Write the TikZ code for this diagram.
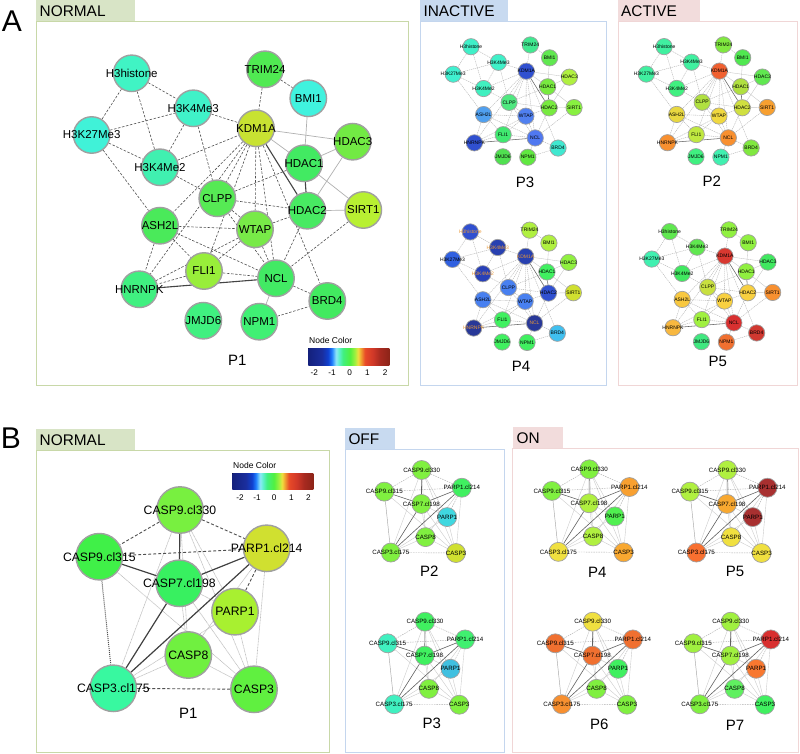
\documentclass[tikz,border=0pt]{standalone}
\usepackage{fontspec}
\setmainfont{Liberation Sans}
\pgfdeclarelayer{bg}
\pgfsetlayers{bg,main}

\definecolor{tabG}{HTML}{D8E4C6}
\definecolor{frmG}{HTML}{C8D8A8}
\definecolor{tabB}{HTML}{C8DAF0}
\definecolor{frmB}{HTML}{C4D6EE}
\definecolor{tabR}{HTML}{F2DCDC}
\definecolor{frmR}{HTML}{F0D6D6}
\definecolor{nbord}{HTML}{A0A0A0}
\definecolor{edark}{HTML}{505050}
\definecolor{elight}{HTML}{B0B0B0}
\definecolor{txk}{HTML}{000000}
\definecolor{txo}{HTML}{E89838}

\definecolor{cb1}{HTML}{14207C}
\definecolor{cb2}{HTML}{1A2E9E}
\definecolor{cb3}{HTML}{1040D0}
\definecolor{cb4}{HTML}{2080FF}
\definecolor{cb5}{HTML}{90E8F8}
\definecolor{cb6}{HTML}{60F0D0}
\definecolor{cb7}{HTML}{40F080}
\definecolor{cb8}{HTML}{50F040}
\definecolor{cb9}{HTML}{A0F040}
\definecolor{cb10}{HTML}{F0E040}
\definecolor{cb11}{HTML}{F0A030}
\definecolor{cb12}{HTML}{E84A28}
\definecolor{cb13}{HTML}{D03828}
\definecolor{cb14}{HTML}{A82A20}
\definecolor{cb15}{HTML}{8C2418}
\pgfdeclarehorizontalshading{ncbar}{100bp}{color(0bp)=(cb1); color(25bp)=(cb1); color(33.5bp)=(cb2); color(37.2bp)=(cb3); color(39.6bp)=(cb4); color(42.1bp)=(cb5); color(43.9bp)=(cb6); color(46.4bp)=(cb7); color(50.7bp)=(cb8); color(53.8bp)=(cb9); color(55.7bp)=(cb10); color(57.5bp)=(cb11); color(60bp)=(cb12); color(64.9bp)=(cb13); color(69.2bp)=(cb14); color(75bp)=(cb15); color(100bp)=(cb15)}

\newcommand\setposA[4]{\expandafter\def\csname Ax#1\endcsname{#2}\expandafter\def\csname Ay#1\endcsname{#3}\expandafter\def\csname Al#1\endcsname{#4}}
\newcommand\setposB[4]{\expandafter\def\csname Bx#1\endcsname{#2}\expandafter\def\csname By#1\endcsname{#3}\expandafter\def\csname Bl#1\endcsname{#4}}

\setposA{H3h}{131.7}{73.3}{H3histone}
\setposA{TRI}{265}{69.3}{TRIM24}
\setposA{BMI}{308.3}{98.3}{BMI1}
\setposA{K43}{193.3}{108.3}{H3K4Me3}
\setposA{KDM}{256}{128.3}{KDM1A}
\setposA{K27}{91.7}{135}{H3K27Me3}
\setposA{HD3}{352.7}{141.7}{HDAC3}
\setposA{HD1}{304}{163.3}{HDAC1}
\setposA{K42}{160}{167.3}{H3K4Me2}
\setposA{CLP}{217.3}{198.3}{CLPP}
\setposA{HD2}{307.3}{210.7}{HDAC2}
\setposA{SIR}{363.3}{210}{SIRT1}
\setposA{ASH}{160}{225.7}{ASH2L}
\setposA{WTA}{255}{229.3}{WTAP}
\setposA{FLI}{204}{271}{FLI1}
\setposA{NCL}{276}{278.3}{NCL}
\setposA{HNR}{139.3}{289.3}{HNRNPK}
\setposA{BRD}{327.3}{301}{BRD4}
\setposA{JMJ}{203.3}{320.7}{JMJD6}
\setposA{NPM}{259.3}{321.7}{NPM1}

\setposB{c330}{0}{0}{CASP9.cl330}
\setposB{p214}{86.7}{38.3}{PARP1.cl214}
\setposB{c315}{-80.7}{46.7}{CASP9.cl315}
\setposB{c198}{-0.7}{73.3}{CASP7.cl198}
\setposB{prp}{55}{101.7}{PARP1}
\setposB{cs8}{8.3}{145}{CASP8}
\setposB{c175}{-66.7}{178.3}{CASP3.cl175}
\setposB{cs3}{74}{179.3}{CASP3}

\def\EAdash{H3h/K27,H3h/K43,H3h/K42,K27/K43,K27/K42,K27/ASH,K43/K42,K43/KDM,K43/CLP,K42/KDM,K42/CLP,TRI/BMI,TRI/KDM,KDM/CLP,KDM/ASH,KDM/WTA,KDM/FLI,KDM/NCL,KDM/HNR,KDM/BRD,CLP/HD1,CLP/HD2,CLP/WTA,CLP/NCL,ASH/WTA,ASH/NCL,ASH/HNR,ASH/FLI,WTA/HD2,WTA/FLI,WTA/HNR,WTA/NCL,HD2/NCL,SIR/NCL,NCL/BRD,NPM/BRD,FLI/NCL,FLI/HNR}
\def\EAdark{KDM/HD2,HD1/HD2,HNR/NCL}
\def\EAlight{KDM/HD1,KDM/HD3,HD1/HD3,HD1/SIR,HD2/SIR,HD2/HD3,BMI/HD1,NCL/NPM}

\def\EBdash{c330/c315,c330/p214,c315/p214,p214/prp,c175/cs3}
\def\EBdark{c330/c198,c315/c198,p214/c198,p214/c175,c198/c175}
\def\EBdot{c315/c175}
\def\EBlight{c330/c175,c330/cs8,c330/cs3,c330/prp,c315/cs3,p214/cs3,p214/cs8,c198/cs8,c198/cs3,c198/prp,prp/c175,prp/cs3,cs8/c175,cs8/cs3}

\newcommand\netA[6]{%
  \foreach \nid/\hx/\tcol in {#6}{%
    \definecolor{tmpc}{HTML}{\hx}%
    \node[#5, fill=tmpc, text=\tcol] (#1\nid) at ({#2+\csname Ax\nid\endcsname*#4},{#3+\csname Ay\nid\endcsname*#4}) {\makebox[0pt]{\csname Al\nid\endcsname}};
  }}
\newcommand\edgesA[4]{%
  \begin{pgfonlayer}{bg}
  \foreach \ea/\eb in \EAdash {\draw[#2] (#1\ea) -- (#1\eb);}
  \foreach \ea/\eb in \EAdark {\draw[#3] (#1\ea) -- (#1\eb);}
  \foreach \ea/\eb in \EAlight {\draw[#4] (#1\ea) -- (#1\eb);}
  \end{pgfonlayer}}
\newcommand\netB[6]{%
  \foreach \nid/\hx in {#6}{%
    \definecolor{tmpc}{HTML}{\hx}%
    \node[#5, fill=tmpc] (#1\nid) at ({#2+\csname Bx\nid\endcsname*#4},{#3+\csname By\nid\endcsname*#4}) {\makebox[0pt]{\csname Bl\nid\endcsname}};
  }}
\newcommand\edgesB[5]{%
  \begin{pgfonlayer}{bg}
  \foreach \ea/\eb in \EBlight {\draw[#5] (#1\ea) -- (#1\eb);}
  \foreach \ea/\eb in \EBdash {\draw[#2] (#1\ea) -- (#1\eb);}
  \foreach \ea/\eb in \EBdark {\draw[#3] (#1\ea) -- (#1\eb);}
  \foreach \ea/\eb in \EBdot {\draw[#4] (#1\ea) -- (#1\eb);}
  \end{pgfonlayer}}

\tikzset{
  bigA/.style={circle, draw=nbord, line width=1.4pt, minimum size=36.5pt, inner sep=0pt, font=\fontsize{11.5}{12}\selectfont},
  smallA/.style={circle, draw=nbord, line width=0.7pt, minimum size=16.3pt, inner sep=0pt, font=\fontsize{5}{6}\selectfont},
  bigB/.style={circle, draw=nbord, line width=1.4pt, minimum size=46.5pt, inner sep=0pt, font=\fontsize{12.2}{13}\selectfont},
  smallB/.style={circle, draw=nbord, line width=0.7pt, minimum size=19pt, inner sep=0pt, font=\fontsize{6.2}{7}\selectfont},
  eDashBig/.style={draw=edark, line width=0.6pt, dash pattern=on 2.5pt off 1.6pt},
  eDarkBig/.style={draw=edark!85!black, line width=1.1pt},
  eLightBig/.style={draw=elight, line width=0.7pt},
  eDashSm/.style={draw=gray!65, line width=0.35pt, dash pattern=on 1.2pt off 0.8pt},
  eDarkSm/.style={draw=gray!80!black, line width=0.55pt},
  eLightSm/.style={draw=gray!45, line width=0.35pt},
  bDash/.style={draw=edark, line width=0.9pt, dash pattern=on 3pt off 2pt},
  bDark/.style={draw=edark!80!black, line width=1.2pt},
  bDot/.style={draw=edark, line width=1pt, dash pattern=on 1pt off 1pt},
  bLight/.style={draw=gray!50, line width=0.6pt, dash pattern=on 1pt off 0.5pt},
  sDash/.style={draw=gray!65, line width=0.4pt, dash pattern=on 1.5pt off 1pt},
  sDark/.style={draw=gray!75!black, line width=0.6pt},
  sDot/.style={draw=gray!70, line width=0.45pt},
  sLight/.style={draw=gray!40, line width=0.4pt},
  ttl/.style={font=\fontsize{15.4}{16}\selectfont, anchor=west, inner sep=0pt},
  plab/.style={font=\fontsize{15}{16}\selectfont, inner sep=0pt},
  bigletter/.style={font=\fontsize{30}{32}\selectfont, inner sep=0pt},
  cbtxt/.style={font=\fontsize{8.5}{9}\selectfont, inner sep=0pt},
  cbtick/.style={font=\fontsize{8.2}{9}\selectfont, inner sep=0pt, anchor=base},
}

\begin{document}
\begin{tikzpicture}[x=1pt,y=-1pt]
\useasboundingbox (0,0) rectangle (800,754);
\begin{pgfonlayer}{bg}
\fill[white] (0,0) rectangle (800,754);
% frames A
\fill[tabG] (36,0) rectangle (135,22);
\draw[frmG, line width=1pt] (36,22) rectangle (408,385);
\fill[tabB] (420,0) rectangle (508,22);
\draw[frmB, line width=1pt] (420,22) rectangle (606,385);
\fill[tabR] (618,0) rectangle (700,22);
\draw[frmR, line width=1pt] (618,22) rectangle (797,385);
% frames B
\fill[tabG] (36,429.3) rectangle (135,450.7);
\draw[frmG, line width=1pt] (36,450.7) rectangle (329.3,752.5);
\fill[tabB] (345,428.3) rectangle (395,449.3);
\draw[frmB, line width=1pt] (345,449.3) rectangle (504,752.5);
\fill[tabR] (512.7,426.7) rectangle (563.3,448.3);
\draw[frmR, line width=1pt] (512.7,448.3) rectangle (798,752.5);
\end{pgfonlayer}

\node[bigletter] (LA) at (12,21) {A};
\node[bigletter] (LB) at (11,438) {B};
\node[ttl] (tA1) at (39.5,11.3) {NORMAL};
\node[ttl] (tA2) at (423.3,11.3) {INACTIVE};
\node[ttl] (tA3) at (621,11.3) {ACTIVE};
\node[ttl] (tB1) at (39.5,440.3) {NORMAL};
\node[ttl] (tB2) at (348.3,438.8) {OFF};
\node[ttl] (tB3) at (516.5,437.8) {ON};

% ---------- A P1
\netA{a}{0}{0}{1}{bigA}{H3h/40F4C4/txk, TRI/50EA52/txk, BMI/40F2DE/txk, K43/40F2C8/txk, KDM/C8E232/txk, K27/40F2D8/txk, HD3/72EA44/txk, HD1/42EA62/txk, K42/40F0B0/txk, CLP/56EA54/txk, HD2/48EA62/txk, SIR/B8F032/txk, ASH/4AEA5A/txk, WTA/78EA48/txk, FLI/98EE3A/txk, NCL/42EA64/txk, HNR/40F080/txk, BRD/42EA60/txk, JMJ/40F080/txk, NPM/40F074/txk}
\edgesA{a}{eDashBig}{eDarkBig}{eLightBig}
\node[plab] (pA1) at (237.3,360) {P1};

% ---------- A P3 inactive
\netA{b}{412.4}{14.1}{0.445}{smallA}{H3h/40F0C8/txk, TRI/40E890/txk, BMI/60E850/txk, K43/40F0C8/txk, KDM/3050D0/txk, K27/40F0D0/txk, HD3/B0F040/txk, HD1/78EA40/txk, K42/40F0C0/txk, CLP/50E880/txk, HD2/78EA40/txk, SIR/88F040/txk, ASH/50A0F0/txk, WTA/5080F0/txk, FLI/40E870/txk, NCL/5078F0/txk, HNR/3050D0/txk, BRD/40E8D0/txk, JMJ/50E050/txk, NPM/60E840/txk}
\edgesA{b}{eDashSm}{eDarkSm}{eLightSm}
\node[plab] (pA3) at (525,182.7) {P3};

% ---------- A P4 inactive
\netA{c}{411.7}{199.3}{0.445}{smallA}{H3h/3050D0/txo, TRI/B0F040/txk, BMI/B0F040/txk, K43/2840B0/txo, KDM/2840B0/txo, K27/3060E0/txk, HD3/90F040/txk, HD1/40F060/txk, K42/2840B8/txo, CLP/4880F0/txk, HD2/3050D0/txk, SIR/D0E030/txk, ASH/4880F0/txk, WTA/4880F0/txk, FLI/40F060/txk, NCL/283898/txo, HNR/283898/txo, BRD/40C0F0/txk, JMJ/40F060/txk, NPM/40F060/txk}
\edgesA{c}{eDashSm}{eDarkSm}{eLightSm}
\node[plab] (pA4) at (521,366.7) {P4};

% ---------- A P2 active
\netA{d}{605.5}{14}{0.445}{smallA}{H3h/40F0A0/txk, TRI/80E840/txk, BMI/50E850/txk, K43/40F0A0/txk, KDM/F06030/txk, K27/40F0A0/txk, HD3/60E850/txk, HD1/B0E040/txk, K42/40F080/txk, CLP/B0E040/txk, HD2/D0E040/txk, SIR/F8A030/txk, ASH/E8D840/txk, WTA/F0D840/txk, FLI/C0E840/txk, NCL/F89030/txk, HNR/F89030/txk, BRD/80E840/txk, JMJ/40F080/txk, NPM/40F0B0/txk}
\edgesA{d}{eDashSm}{eDarkSm}{eLightSm}
\node[plab] (pA2) at (711.7,181.7) {P2};

% ---------- A P5 active
\netA{e}{611}{199}{0.445}{smallA}{H3h/60E850/txk, TRI/90F040/txk, BMI/90F040/txk, K43/60E850/txk, KDM/D83830/txk, K27/40F0B0/txk, HD3/40E860/txk, HD1/90F040/txk, K42/40E860/txk, CLP/C8E040/txk, HD2/F8D040/txk, SIR/F89030/txk, ASH/F8C840/txk, WTA/F8D040/txk, FLI/A0F040/txk, NCL/D83030/txk, HNR/F8B840/txk, BRD/D03830/txk, JMJ/40E880/txk, NPM/F07030/txk}
\edgesA{e}{eDashSm}{eDarkSm}{eLightSm}
\node[plab] (pA5) at (717.7,361.7) {P5};

% ---------- colour bar A
\fill[shading=ncbar] (308.3,348.3) rectangle (389.3,365);
\node[cbtxt, anchor=base west] (cbAl) at (309,343.5) {Node Color};
\foreach \v [count=\k] in {-2,-1,0,1,2}
  \node[cbtick] (cbA\k) at ({314.3+(\k-1)*17.7},375.5) {\v};

% ---------- B P1
\netB{f}{180}{510}{1}{bigB}{c330/78F040, p214/D0E030, c315/40F048, c198/38F060, prp/A8F030, cs8/70F040, c175/38F8A0, cs3/60F040}
\edgesB{f}{bDash}{bDark}{bDot}{bLight}
\node[plab] (pB1) at (188.3,713.3) {P1};

% ---------- colour bar B
\fill[shading=ncbar] (232.3,473.3) rectangle (313.3,489);
\node[cbtxt, anchor=base west] (cbBl) at (233,468) {Node Color};
\foreach \v [count=\k] in {-2,-1,0,1,2}
  \node[cbtick] (cbB\k) at ({240+(\k-1)*17.1},500.3) {\v};

% ---------- B small
\netB{g}{421.7}{470}{0.463}{smallB}{c330/80F040, p214/40F060, c315/80F040, c198/80F040, prp/40D8E0, cs8/80F040, c175/80F040, cs3/D0E030}
\edgesB{g}{sDash}{sDark}{sDot}{sLight}
\node[plab] (pB2) at (429.3,571.7) {P2};

\netB{h}{425}{621.7}{0.463}{smallB}{c330/40F060, p214/40F070, c315/40F0C0, c198/40F060, prp/40C0E0, cs8/80F040, c175/40F0C0, cs3/80F040}
\edgesB{h}{sDash}{sDark}{sDot}{sLight}
\node[plab] (pB3) at (431.7,723.3) {P3};

\netB{i}{589.3}{469.3}{0.463}{smallB}{c330/80F040, p214/F8A030, c315/80F040, c198/B0F040, prp/50F050, cs8/B0F040, c175/F0E040, cs3/F8A830}
\edgesB{i}{sDash}{sDark}{sDot}{sLight}
\node[plab] (pB4) at (597.3,572.7) {P4};

\netB{j}{727.3}{470}{0.463}{smallB}{c330/B0F040, p214/A83030, c315/B0F040, c198/F8A830, prp/A83030, cs8/F0E040, c175/F87030, cs3/F0E040}
\edgesB{j}{sDash}{sDark}{sDot}{sLight}
\node[plab] (pB5) at (735,571.7) {P5};

\netB{m}{592.7}{621.7}{0.463}{smallB}{c330/F0E040, p214/F07030, c315/F07030, c198/F07030, prp/40F060, cs8/80F040, c175/F89030, cs3/80F040}
\edgesB{m}{sDash}{sDark}{sDot}{sLight}
\node[plab] (pB6) at (599.3,724) {P6};

\netB{n}{730.7}{621.7}{0.463}{smallB}{c330/A0F040, p214/D83030, c315/A0F040, c198/A0F040, prp/F87830, cs8/60F060, c175/80F040, cs3/40F060}
\edgesB{n}{sDash}{sDark}{sDot}{sLight}
\node[plab] (pB7) at (735,725) {P7};
\end{tikzpicture}
\end{document}
